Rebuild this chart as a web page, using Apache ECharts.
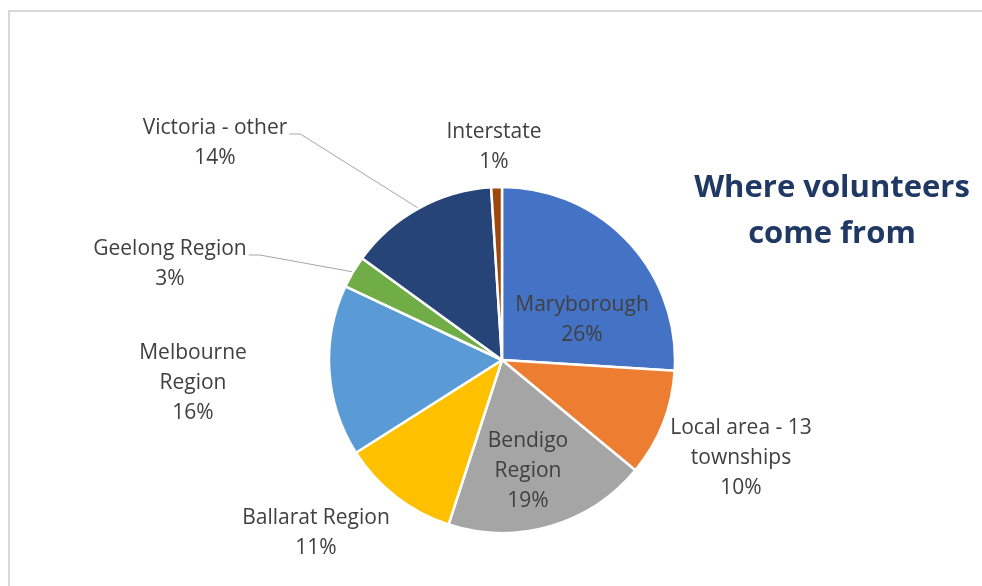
<!DOCTYPE html>
<html>
<head>
<meta charset="utf-8">
<script src="https://cdn.jsdelivr.net/npm/echarts@6/dist/echarts.min.js"></script>
<style>
html,body{margin:0;padding:0;background:#fff;}
#chart{width:982px;height:586px;}
</style>
</head>
<body>
<div id="chart"></div>
<script>
// ---- data ----
var categories = ["Maryborough", "Local area - 13\ntownships", "Bendigo\nRegion", "Ballarat Region", "Melbourne\nRegion", "Geelong Region", "Victoria - other", "Interstate"];
var values = [26, 10, 19, 11, 16, 3, 14, 1];
var titleText = "Where volunteers\ncome from";

// ---- styles / layout ----
var colors = ["#4472C4", "#ED7D31", "#A5A5A5", "#FFC000", "#5B9BD5", "#70AD47", "#264478", "#9E480E"];
var labelCenters = [[582, 320], [741, 458], [528, 471], [316, 533], [193, 383], [170, 264], [215, 143], [494, 147]];
var withLine = [false, false, false, false, false, true, true, false];
var FONT = "Open Sans";
var FS = 21;
var LH = 30;

var chart = echarts.init(document.getElementById('chart'), null, {renderer: 'canvas'});

var dataItems = categories.map(function (n, i) {
  return {
    name: n,
    value: values[i],
    itemStyle: {color: colors[i]},
    labelLine: {show: withLine[i]}
  };
});

chart.setOption({
  animation: false,
  backgroundColor: '#fff',
  title: {
    text: titleText,
    left: 827,
    top: 160,
    textAlign: 'center',
    textStyle: {
      fontFamily: FONT,
      fontWeight: 'bold',
      fontSize: 31,
      lineHeight: 46,
      color: '#1F3864'
    }
  },
  graphic: [{
    type: 'rect',
    shape: {x: 9, y: 11, width: 1000, height: 600},
    style: {fill: 'none', stroke: '#d9d9d9', lineWidth: 2},
    silent: true,
    z: -10
  }],
  series: [{
    type: 'pie',
    center: [502, 360],
    radius: [0, 173],
    startAngle: 90,
    clockwise: true,
    avoidLabelOverlap: false,
    itemStyle: {borderColor: '#fff', borderWidth: 2.5},
    label: {
      show: true,
      position: 'outside',
      formatter: '{b}\n{c}%',
      fontFamily: FONT,
      fontSize: FS,
      lineHeight: LH,
      color: '#404040',
      align: 'center'
    },
    labelLine: {
      show: true,
      length: 10,
      length2: 10,
      lineStyle: {color: '#a6a6a6', width: 1}
    },
    labelLayout: function (params) {
      var i = params.dataIndex;
      var c = labelCenters[i];
      var res = {x: c[0], y: c[1], align: 'center', verticalAlign: 'middle'};
      if (withLine[i] && params.labelLinePoints) {
        var p0 = params.labelLinePoints[0];
        var w = params.labelRect.width;
        var h = params.labelRect.height;
        var ex = c[0] + w / 2 + 2;
        var ey = c[1] - h / 2 + LH / 2 + 6;
        res.labelLinePoints = [p0, [ex + 11, ey], [ex, ey]];
      }
      return res;
    },
    data: dataItems
  }]
});
</script>
</body>
</html>
